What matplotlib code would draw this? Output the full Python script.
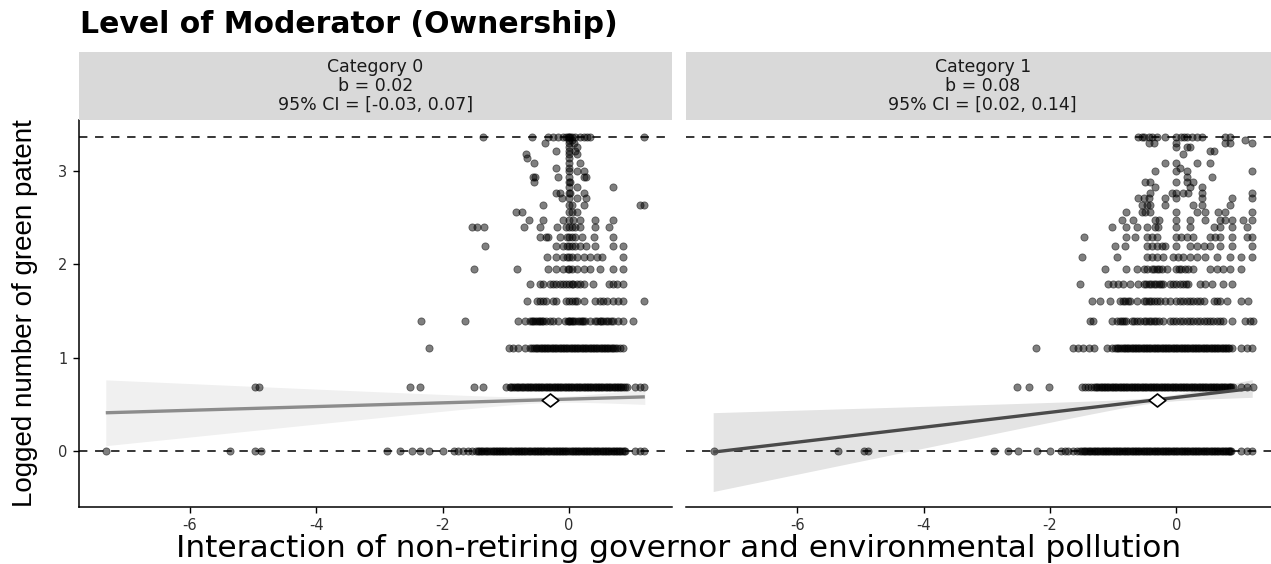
import matplotlib
matplotlib.use("Agg")
import numpy as np
import matplotlib.pyplot as plt
from matplotlib import font_manager
from matplotlib.path import Path

plt.rcParams['axes.unicode_minus'] = False

# ---------------------------------------------------------------- data
# logged patent counts (discrete levels of the outcome)
levels = [3.37, 3.33, 3.30, 3.26, 3.22, 3.18, 3.14, 3.09, 3.04, 3.00,
          2.94, 2.89, 2.83, 2.77, 2.71, 2.64, 2.56, 2.48, 2.40, 2.30,
          2.20, 2.08, 1.95, 1.79, 1.61, 1.39, 1.10, 0.69, 0.00]

# moderator value 0: interaction values observed at each outcome level
cat0_x = [
    [-1.36, -0.59, -0.33, -0.25, -0.17, -0.09, -0.04, -0.02, 0.0, 0.02, 0.04, 0.09, 0.17, 0.23, 0.29, 0.33, 1.18],
    [0.0, 0.04],
    [-0.38, 0.0, 0.08],
    [0.0, 0.13],
    [-0.2, 0.0, 0.1],
    [-0.68, 0.0, 0.13],
    [-0.67, 0.0],
    [-0.55, 0.0, 0.17],
    [-0.2, 0.0],
    [0.0, 0.12, 0.24],
    [-0.57, -0.53, -0.18, 0.0, 0.23, 0.27],
    [-0.55, 0.0, 0.02],
    [0.0, 0.12, 0.70],
    [-0.2, -0.14, 0.0, 0.02, 0.23],
    [-0.11, 0.0, 0.12, 0.27],
    [-0.41, 0.0, 0.04, 0.23, 1.12, 1.19],
    [-0.84, -0.75, 0.0, 0.05, 0.12],
    [-0.64, -0.41, -0.1, 0.0, 0.07, 0.17, 0.41, 0.70],
    [-1.54, -1.46, -1.34, -0.71, -0.46, -0.19, -0.05, 0.0, 0.05, 0.09, 0.17, 0.41, 0.64],
    [-0.46, -0.36, -0.33, -0.14, -0.03, 0.0, 0.05, 0.09, 0.2, 0.4, 0.7],
    [-1.33, -0.2, -0.09, -0.03, 0.0, 0.04, 0.09, 0.17, 0.27, 0.41, 0.7, 0.86],
    [-0.35, -0.2, -0.09, -0.03, 0.0, 0.04, 0.12, 0.23, 0.33, 0.44, 0.52, 0.86],
    [-1.5, -0.83, -0.33, -0.2, -0.09, -0.02, 0.0, 0.04, 0.12, 0.23, 0.33, 0.49, 0.70, 0.86],
    [-0.62, -0.46, -0.41, -0.3, -0.25, -0.2, -0.14, -0.09, -0.04, 0.0, 0.04, 0.07, 0.12, 0.17, 0.23,
     0.38, 0.64, 0.70, 0.76, 0.86],
    [-0.67, -0.51, -0.46, -0.41, -0.36, -0.25, -0.2, -0.04, 0.0, 0.04, 0.09, 0.12, 0.23, 0.41, 0.49,
     0.54, 0.60, 0.70, 0.78, 0.86, 1.18],
    [-2.34, -1.64, -0.80, -0.70, -0.62, -0.57, -0.51, -0.46, -0.41, -0.36, -0.3, -0.25, -0.17, -0.06,
     0.0, 0.04, 0.07, 0.14, 0.2, 0.25, 0.33, 0.41, 0.49, 0.54, 0.62, 0.70, 0.78, 0.86, 1.01,
     -0.59, -0.53, -0.48, -0.43, -0.02, 0.02, 0.1, 0.17, 0.22, 0.45, 0.51, 0.58, 0.66],
    [-2.21, -0.95, -0.88, -0.81, -0.70, -0.62, -0.55, -0.50, -0.45, -0.40, -0.35, -0.30, -0.25, -0.20,
     -0.15, -0.10, -0.05, 0.0, 0.05, 0.10, 0.15, 0.20, 0.25, 0.30, 0.35, 0.40, 0.45, 0.50, 0.55, 0.60,
     0.65, 0.70, 0.76, 0.86,
     -0.585, -0.525, -0.475, -0.425, -0.375, -0.325, -0.275, -0.225, -0.175, -0.125, -0.075, -0.025,
     0.025, 0.075, 0.125, 0.175, 0.225, 0.275, 0.325, 0.375, 0.425, 0.475, 0.525, 0.575, 0.625,
     0.675, 0.73, 0.81],
    [-4.97, -4.90, -2.51, -2.35, -1.51, -1.36, -0.99, -0.94, -0.88, -0.83, -0.78, -0.72, -0.67, -0.62,
     -0.57, -0.52, -0.47, -0.42, -0.37, -0.32, -0.27, -0.22, -0.17, -0.12, -0.07, -0.02, 0.03, 0.08,
     0.13, 0.18, 0.23, 0.28, 0.33, 0.38, 0.43, 0.48, 0.53, 0.58, 0.63, 0.68, 0.73, 0.78, 0.83, 0.88,
     0.92, 1.04, 1.12, 1.18,
     -0.91, -0.855, -0.805, -0.75, -0.695, -0.645, -0.595, -0.545, -0.495, -0.445, -0.395, -0.345,
     -0.295, -0.245, -0.195, -0.145, -0.095, -0.045, 0.005, 0.055, 0.105, 0.155, 0.205, 0.255,
     0.305, 0.355, 0.405, 0.455, 0.505, 0.555, 0.605, 0.655, 0.705, 0.755, 0.805, 0.855],
    [-7.33, -5.37, -4.97, -4.88, -2.88, -2.67, -2.49, -2.35, -2.21, -2.00, -1.82, -1.75, -1.68, -1.60,
     -1.53, -1.47, -1.42, -1.37, -1.31, -1.26, -1.21, -1.16, -1.11, -1.06, -1.01, -0.96, -0.91, -0.86,
     -0.81, -0.76, -0.71, -0.66, -0.61, -0.56, -0.51, -0.46, -0.41, -0.36, -0.31, -0.26, -0.21, -0.16,
     -0.11, -0.06, -0.01, 0.04, 0.09, 0.14, 0.19, 0.24, 0.29, 0.34, 0.39, 0.44, 0.49, 0.54, 0.59, 0.64,
     0.69, 0.74, 0.79, 0.84, 0.89, 1.04, 1.12, 1.18,
     -1.44, -1.39, -1.34, -1.29, -1.24, -1.19, -1.14, -1.09, -1.04, -0.99, -0.94, -0.89, -0.84,
     -0.79, -0.74, -0.69, -0.64, -0.59, -0.54, -0.49, -0.44, -0.39, -0.34, -0.29, -0.24, -0.19,
     -0.14, -0.09, -0.04, 0.015, 0.065, 0.115, 0.165, 0.215, 0.265, 0.315, 0.365, 0.415, 0.465,
     0.515, 0.565, 0.615, 0.665, 0.715, 0.765, 0.815, 0.865],
]

# moderator value 1
cat1_x = [
    [-0.60, -0.55, -0.52, -0.44, -0.39, -0.31, -0.18, 0.0, 0.08, 0.12, 0.16, 0.24, 0.32, 0.40, 0.77, 0.85],
    [1.09],
    [-0.44, -0.36, 0.0, 0.77, 0.85, 1.19],
    [0.0, 0.16, 0.22],
    [0.53, 0.59],
    [0.11],
    [],
    [-0.18, 0.0, 0.32, 0.53],
    [0.05],
    [-0.34, 0.0, 0.16, 1.19],
    [0.17, 0.56],
    [-0.5, -0.42, 0.0, 0.16, 0.27],
    [-0.34, 0.22, 0.40],
    [-0.42, -0.07, 0.0, 0.11, 0.19, 0.40, 1.19],
    [-0.6, -0.52, -0.44, -0.18, 0.0, 0.40, 0.88, 1.19],
    [-0.55, -0.47, -0.42, -0.18, 0.27, 0.40, 0.85],
    [-0.79, -0.55, -0.5, -0.42, 0.0, 0.32, 0.45, 0.66, 0.77, 1.19],
    [-0.86, -0.68, -0.34, -0.28, 0.0, 0.22, 0.45, 0.69, 0.77, 0.88, 1.06, 1.19],
    [-1.02, -0.79, -0.63, -0.47, -0.34, -0.29, 0.0, 0.22, 0.59, 0.69, 0.88, 1.11],
    [-1.46, -0.79, -0.65, -0.47, -0.39, -0.31, 0.0, 0.08, 0.16, 0.27, 0.53, 0.61, 0.69, 0.88, 1.11, 1.19],
    [-0.97, -0.81, -0.47, -0.39, -0.31, -0.23, -0.18, 0.0, 0.22, 0.32, 0.43, 0.53, 0.69, 0.88, 1.19],
    [-1.5, -0.94, -0.47, -0.39, -0.31, -0.21, -0.05, 0.03, 0.11, 0.22, 0.32, 0.45, 0.64, 0.85, 1.03, 1.19],
    [-1.13, -0.79, -0.63, -0.52, -0.47, -0.39, -0.31, -0.23, -0.15, 0.0, 0.08, 0.19, 0.27, 0.53, 0.64,
     0.74, 0.85, 1.03, -0.35, -0.27, 0.04, 0.13],
    [-1.52, -1.08, -1.0, -0.92, -0.84, -0.73, -0.60, -0.52, -0.44, -0.36, -0.28, -0.21, -0.1, 0.0, 0.11,
     0.19, 0.37, 0.45, 0.56, 0.74, 0.88, -0.48, -0.4, -0.32, -0.24, -0.05, 0.05, 0.15],
    [-1.33, -1.21, -1.05, -0.89, -0.81, -0.73, -0.63, -0.52, -0.44, -0.36, -0.26, -0.18, -0.1, 0.0, 0.11,
     0.22, 0.32, 0.43, 0.59, 0.69, 0.8, 1.03, 1.14,
     -0.85, -0.77, -0.48, -0.4, -0.31, 0.05, 0.16, 0.27, 0.38, 0.64],
    [-1.37, -1.32, -1.02, -0.94, -0.86, -0.79, -0.71, -0.63, -0.52, -0.44, -0.36, -0.28, -0.21, -0.10,
     0.0, 0.11, 0.22, 0.32, 0.43, 0.53, 0.64, 0.74, 0.88, 1.09, 1.17, 1.22,
     -0.9, -0.83, -0.67, -0.58, -0.48, -0.4, -0.32, -0.05, 0.05, 0.16, 0.27, 0.37, 0.48, 0.58, 0.69],
    [-2.22, -1.63, -1.55, -1.47, -1.39, -1.31, -1.10, -1.02, -0.97, -0.92, -0.86, -0.81, -0.76, -0.71,
     -0.66, -0.61, -0.56, -0.51, -0.46, -0.41, -0.36, -0.31, -0.26, -0.21, -0.16, -0.11, -0.06, -0.01,
     0.04, 0.09, 0.14, 0.19, 0.24, 0.29, 0.34, 0.39, 0.44, 0.49, 0.54, 0.59, 0.64, 0.69, 0.74, 0.79,
     0.84, 0.88, 1.03, 1.11, 1.19,
     -0.945, -0.895, -0.835, -0.785, -0.735, -0.685, -0.635, -0.585, -0.535, -0.485, -0.435, -0.385,
     -0.335, -0.285, -0.235, -0.185, -0.135, -0.085, -0.035, 0.015, 0.065, 0.115, 0.165, 0.215,
     0.265, 0.315, 0.365, 0.415, 0.465, 0.515, 0.565, 0.615, 0.665, 0.715, 0.765, 0.815],
    [-2.52, -2.34, -2.01, -1.50, -1.45, -1.40, -1.35, -1.30, -1.25, -1.20, -1.15, -1.10, -1.05, -1.00,
     -0.95, -0.90, -0.85, -0.80, -0.75, -0.70, -0.65, -0.60, -0.55, -0.50, -0.45, -0.40, -0.35, -0.30,
     -0.25, -0.20, -0.15, -0.10, -0.05, 0.00, 0.05, 0.10, 0.15, 0.20, 0.25, 0.30, 0.35, 0.40, 0.45,
     0.50, 0.55, 0.60, 0.65, 0.70, 0.75, 0.80, 0.85, 0.89, 1.03, 1.11, 1.21,
     -1.275, -1.225, -1.175, -1.125, -1.075, -1.025, -0.975, -0.925, -0.875, -0.825, -0.775, -0.725,
     -0.675, -0.625, -0.575, -0.525, -0.475, -0.425, -0.375, -0.325, -0.275, -0.225, -0.175, -0.125,
     -0.075, -0.025, 0.025, 0.075, 0.125, 0.175, 0.225, 0.275, 0.325, 0.375, 0.425, 0.475, 0.525,
     0.575, 0.625, 0.675, 0.725, 0.775, 0.825, 0.87],
    [-7.32, -5.35, -4.94, -4.88, -2.89, -2.67, -2.51, -2.21, -2.00, -1.83, -1.77, -1.71, -1.64, -1.58,
     -1.52, -1.46, -1.41, -1.36, -1.31, -1.26, -1.21, -1.16, -1.11, -1.06, -1.01, -0.96, -0.91, -0.86,
     -0.81, -0.76, -0.71, -0.66, -0.61, -0.56, -0.51, -0.46, -0.41, -0.36, -0.31, -0.26, -0.21, -0.16,
     -0.11, -0.06, -0.01, 0.04, 0.09, 0.14, 0.19, 0.24, 0.29, 0.34, 0.39, 0.44, 0.49, 0.54, 0.59, 0.64,
     0.69, 0.74, 0.79, 0.83, 0.87, 1.03, 1.12, 1.19,
     -1.49, -1.44, -1.385, -1.335, -1.285, -1.235, -1.185, -1.135, -1.085, -1.035, -0.985, -0.935,
     -0.885, -0.835, -0.785, -0.735, -0.685, -0.635, -0.585, -0.535, -0.485, -0.435, -0.385, -0.335,
     -0.285, -0.235, -0.185, -0.135, -0.085, -0.035, 0.015, 0.065, 0.115, 0.165, 0.215, 0.265,
     0.315, 0.365, 0.415, 0.465, 0.515, 0.565, 0.615, 0.665, 0.715, 0.765, 0.81, 0.85],
]

# simple-slope estimates per moderator level
categories = ["Category 0", "Category 1"]
slopes = [0.02, 0.08]
ci_low = [-0.03, 0.02]
ci_high = [0.07, 0.14]
mean_x = -0.3          # mean of the interaction term
mean_y = 0.55          # predicted outcome at the mean
mean_halfwidth = 0.03  # CI half-width of the prediction at the mean
fit_range = [-7.33, 1.2]

reference_lines = [0.0, 3.37]
x_ticks = [-6, -4, -2, 0]
y_ticks = [0, 1, 2, 3]

# ---------------------------------------------------------------- style
line_colors = ["#8c8c8c", "#4a4a4a"]
ribbon_colors = ["#f0f0f0", "#e4e4e4"]
strip_color = "#d9d9d9"
tick_color = "#303030"


def available(name):
    try:
        font_manager.findfont(name, fallback_to_default=False)
        return True
    except Exception:
        return False


text_font = "DejaVu Sans"
ylabel_font = "Liberation Sans Narrow" if available("Liberation Sans Narrow") else "Liberation Sans"
ylabel_size = 24 if ylabel_font == "Liberation Sans Narrow" else 20

W, H = 1271, 564
fig = plt.figure(figsize=(W / 100, H / 100), dpi=100)


def fx(px):
    return px / W


def fy(py):
    return 1 - py / H


panel_w = fx(593.4)
panel_b = fy(506.7)
panel_h = fy(119.5) - panel_b
strip_h = fy(52) - fy(119.5)
lefts = [fx(78.6), fx(686)]

# diamond marker, slightly wider than tall
diamond = Path([(-1, 0), (0, 0.78), (1, 0), (0, -0.78), (-1, 0)],
               [Path.MOVETO, Path.LINETO, Path.LINETO, Path.LINETO, Path.CLOSEPOLY])

for i, left in enumerate(lefts):
    ax = fig.add_axes([left, panel_b, panel_w, panel_h])
    ax.set_xlim(-7.76, 1.63)
    ax.set_ylim(-0.598, 3.555)

    # regression ribbon and line
    xs = np.linspace(fit_range[0], fit_range[1], 200)
    fit = mean_y + slopes[i] * (xs - mean_x)
    half_slope = (ci_high[i] - ci_low[i]) / 2
    half = np.sqrt(mean_halfwidth ** 2 + ((xs - mean_x) * half_slope) ** 2)
    ax.fill_between(xs, fit - half, fit + half, color=ribbon_colors[i], lw=0, zorder=1)

    for ref in reference_lines:
        ax.axhline(ref, color="black", lw=1.1, ls=(0, (5.5, 5.0)), zorder=2)

    rows_x = cat0_x if i == 0 else cat1_x
    px, py = [], []
    for lev, row in zip(levels, rows_x):
        px.extend(row)
        py.extend([lev] * len(row))
    ax.scatter(px, py, s=27, c="black", alpha=0.5, edgecolors="black",
               linewidths=0.6, zorder=3)

    ax.plot(xs, fit, color=line_colors[i], lw=2.4, solid_capstyle="butt", zorder=4)
    ax.plot([mean_x], [mean_y], marker=diamond, ms=12, mfc="white", mec="black",
            mew=1.2, ls="none", zorder=5)

    ax.set_xticks(x_ticks)
    ax.set_xticklabels([str(t) for t in x_ticks])
    ax.tick_params(axis="x", length=4, width=1, color="black", pad=4,
                   labelsize=10.5, labelcolor=tick_color)
    for lab in ax.get_xticklabels():
        lab.set_fontfamily(text_font)
    for s in ["top", "right"]:
        ax.spines[s].set_visible(False)
    ax.spines["bottom"].set_linewidth(1.1)
    if i == 0:
        ax.spines["left"].set_linewidth(1.1)
        ax.set_yticks(y_ticks)
        ax.set_yticklabels([str(t) for t in y_ticks])
        ax.tick_params(axis="y", length=4, width=1, color="black", pad=4,
                       labelsize=10.5, labelcolor=tick_color)
        for lab in ax.get_yticklabels():
            lab.set_fontfamily(text_font)
    else:
        ax.spines["left"].set_visible(False)
        ax.set_yticks([])

    # facet strip
    sax = fig.add_axes([left, fy(119.5), panel_w, strip_h])
    sax.set_facecolor(strip_color)
    sax.set_xticks([])
    sax.set_yticks([])
    for s in sax.spines.values():
        s.set_visible(False)
    label = (f"{categories[i]}\nb = {slopes[i]:.2f}\n"
             f"95% CI = [{ci_low[i]:.2f}, {ci_high[i]:.2f}]")
    sax.text(0.5, 0.5, label, ha="center", va="center", fontsize=12.5,
             family=text_font, color="#1a1a1a", linespacing=1.05,
             transform=sax.transAxes)

fig.text(fx(80), fy(33), "Level of Moderator (Ownership)", ha="left", va="baseline",
         fontsize=21.5, fontweight="bold", family=text_font, color="black")
fig.text(fx(679), fy(557), "Interaction of non-retiring governor and environmental pollution",
         ha="center", va="baseline", fontsize=22.5, family=text_font, color="black")
fig.text(fx(25), fy(313), "Logged number of green patent", rotation=90,
         ha="center", va="center", fontsize=ylabel_size, family=ylabel_font, color="black")

fig.savefig("out.png", dpi=100)
